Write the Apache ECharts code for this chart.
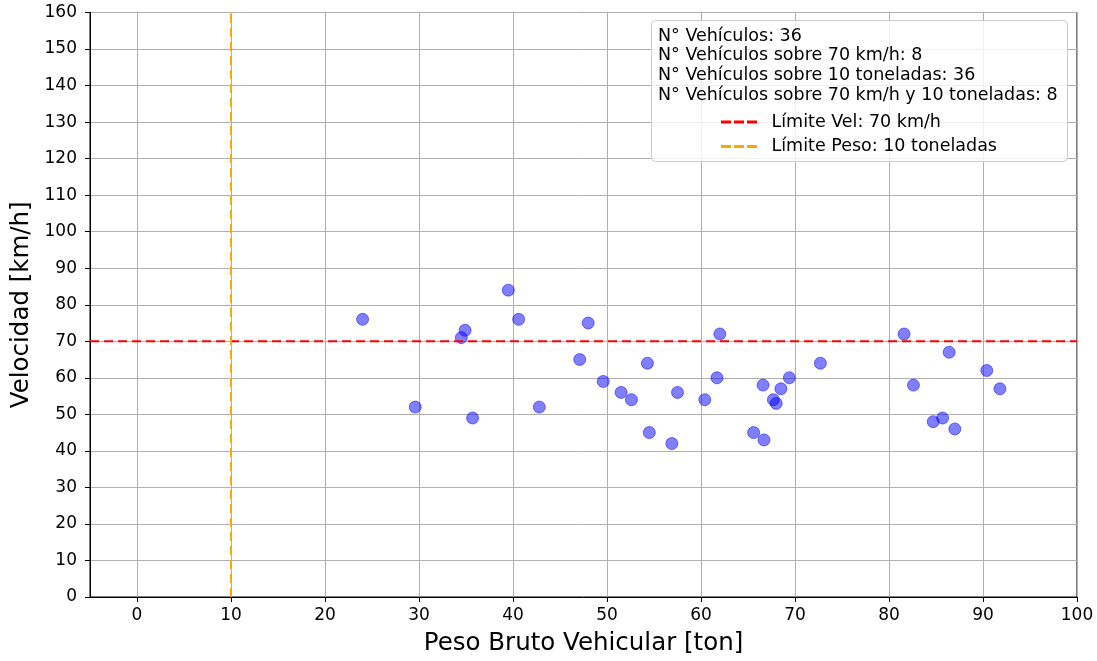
<!DOCTYPE html>
<html>
<head>
<meta charset="utf-8">
<script src="https://cdn.jsdelivr.net/npm/echarts@6/dist/echarts.min.js"></script>
<style>
  html, body { margin: 0; padding: 0; background: #fff; }
  #chart { width: 1097px; height: 661px; }
</style>
</head>
<body>
<div id="chart"></div>
<script>
// peso bruto (ton) y velocidad (km/h) de cada vehiculo
const peso = [24.0, 29.6, 34.5, 34.9, 35.7, 39.5, 40.6, 42.8, 47.1, 48.0, 49.6, 51.5,
  52.6, 54.3, 54.5, 56.9, 57.5, 60.4, 61.7, 62.0, 65.6, 66.6, 66.7, 67.7,
  68.0, 68.5, 69.4, 72.7, 81.6, 82.6, 84.7, 85.7, 86.4, 87.0, 90.4, 91.8]
const velocidad = [76, 52, 71, 73, 49, 84, 76, 52, 65, 75, 59, 56,
  54, 64, 45, 42, 56, 54, 60, 72, 45, 58, 43, 54,
  53, 57, 60, 64, 72, 58, 48, 49, 67, 46, 62, 57]
const limiteVel = 70
const limitePeso = 10
const xTicks = [0, 10, 20, 30, 40, 50, 60, 70, 80, 90, 100]
const infoLines = [
  'N° Vehículos: 36',
  'N° Vehículos sobre 70 km/h: 8',
  'N° Vehículos sobre 10 toneladas: 36',
  'N° Vehículos sobre 70 km/h y 10 toneladas: 8'
]

let chart = echarts.init(document.getElementById('chart'))
let font = 'DejaVu Sans'
let dashIcon = 'path://M0,0H10V3H0Z M13,0H23V3H13Z M26,0H36V3H26Z'

let puntos = peso.map((p, i) => [p, velocidad[i]])

let option = {
  animation: false,
  textStyle: { fontFamily: font },
  grid: {
    left: 90, right: 20, top: 12.5, bottom: 60.5,
    show: true, borderColor: '#000', borderWidth: 1, backgroundColor: 'transparent'
  },
  xAxis: {
    type: 'value',
    min: -5, max: 100,
    name: 'Peso Bruto Vehicular [ton]',
    nameLocation: 'middle',
    nameGap: 34,
    nameTextStyle: { fontSize: 24.5, color: '#000', fontFamily: font },
    axisLine: { show: true, onZero: false, lineStyle: { color: '#000' } },
    axisTick: { show: true, inside: false, length: 5, customValues: xTicks, lineStyle: { color: '#000' } },
    axisLabel: { customValues: xTicks, fontSize: 17, color: '#000', margin: 10, fontFamily: font },
    splitLine: { show: true, lineStyle: { color: '#b0b0b0', width: 1 } }
  },
  yAxis: {
    type: 'value',
    min: 0, max: 160, interval: 10,
    name: 'Velocidad [km/h]',
    nameLocation: 'middle',
    nameGap: 50,
    nameTextStyle: { fontSize: 24.5, color: '#000', fontFamily: font },
    axisLine: { show: true, onZero: false, lineStyle: { color: '#000' } },
    axisTick: { show: true, inside: false, length: 5, lineStyle: { color: '#000' } },
    axisLabel: { fontSize: 17, color: '#000', margin: 13, fontFamily: font },
    splitLine: { show: true, lineStyle: { color: '#b0b0b0', width: 1 } }
  },
  legend: {
    orient: 'vertical',
    left: 721, top: 113,
    padding: 0,
    z: 20,
    itemWidth: 36, itemHeight: 3,
    itemGap: 6.5,
    icon: dashIcon,
    textStyle: { fontSize: 17.5, color: '#000', fontFamily: font, lineHeight: 17.5, padding: [0, 0, 0, 9.5] },
    data: ['Límite Vel: 70 km/h', 'Límite Peso: 10 toneladas']
  },
  graphic: [
    {
      type: 'rect', z: 10,
      shape: { x: 651.5, y: 20.5, width: 416, height: 141, r: 4 },
      style: { fill: 'rgba(255,255,255,0.8)', stroke: '#cccccc', lineWidth: 1 }
    },
    ...infoLines.map((t, i) => ({
      type: 'text', z: 11,
      left: 658, top: 27 + i * 19.8,
      style: { text: t, fontSize: 17.5, fontFamily: font, fill: '#000' }
    }))
  ],
  series: [
    {
      type: 'scatter',
      data: puntos,
      symbolSize: 12,
      itemStyle: { color: 'rgba(0,0,255,0.5)', borderColor: 'rgba(0,0,255,0.5)', borderWidth: 1, opacity: 1 }
    },
    {
      name: 'Límite Vel: 70 km/h',
      type: 'line',
      data: [[-5, limiteVel], [100, limiteVel]],
      symbol: 'none',
      itemStyle: { color: '#ff0000' },
      lineStyle: { color: '#ff0000', width: 2, type: [9, 5] }
    },
    {
      name: 'Límite Peso: 10 toneladas',
      type: 'line',
      data: [[limitePeso, 0], [limitePeso, 160]],
      symbol: 'none',
      itemStyle: { color: '#ffa500' },
      lineStyle: { color: '#ffa500', width: 2, type: [9, 5] }
    }
  ]
}
chart.setOption(option)
</script>
</body>
</html>
